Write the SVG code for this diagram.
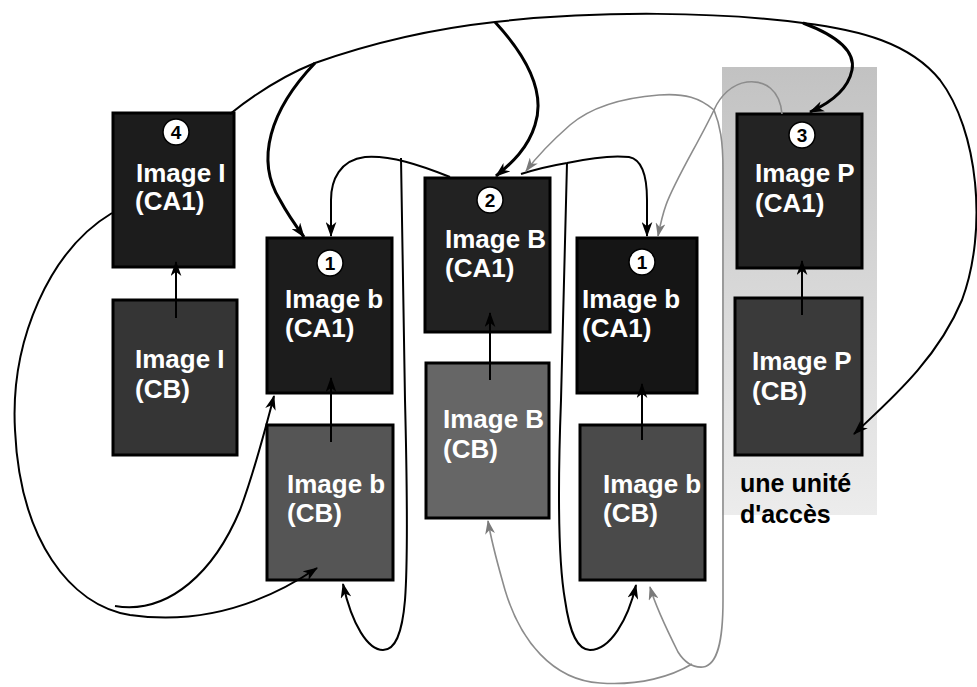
<svg xmlns="http://www.w3.org/2000/svg" width="977" height="687" viewBox="0 0 977 687">
<style>
.box{stroke:#000;stroke-width:3}
.ca1{fill:#1c1c1c}
.lbl{font-family:"Liberation Sans",Arial,sans-serif;font-weight:bold;font-size:26px;fill:#fff}
.num{font-family:"Liberation Sans",Arial,sans-serif;font-weight:bold;font-size:19px;fill:#000;text-anchor:middle}
.badge{fill:#fff;stroke:#000;stroke-width:1.5}
.blk{fill:none;stroke:#000;stroke-width:2}
.thick{fill:none;stroke:#000;stroke-width:3}
.gry{fill:none;stroke:#8c8c8c;stroke-width:1.6}
.note{font-family:"Liberation Sans",Arial,sans-serif;font-weight:bold;font-size:25px;fill:#000}
</style>
<defs>
<marker id="ab" viewBox="0 0 14 10" refX="13" refY="5" markerWidth="15" markerHeight="11" markerUnits="userSpaceOnUse" orient="auto">
<path d="M0,0 L14,5 L0,10 L4,5 z" fill="#000"/>
</marker>
<marker id="ag" viewBox="0 0 14 10" refX="13" refY="5" markerWidth="14" markerHeight="10" markerUnits="userSpaceOnUse" orient="auto">
<path d="M0,0 L14,5 L0,10 L4,5 z" fill="#7a7a7a"/>
</marker>
<linearGradient id="unit" x1="0" y1="0" x2="0" y2="1">
<stop offset="0" stop-color="#c2c2c2"/>
<stop offset="0.6" stop-color="#dcdcdc"/>
<stop offset="1" stop-color="#ececec"/>
</linearGradient>
</defs>
<rect width="977" height="687" fill="#fff"/>
<rect id="access-unit" x="722" y="67" width="155" height="448" fill="url(#unit)"/>

<g id="nodeI_CA1"><rect class="box ca1" x="113" y="113" width="121" height="154"/><circle class="badge" cx="176" cy="132" r="13"/><text class="num" x="176" y="139">4</text><text class="lbl" x="136" y="182">Image I</text><text class="lbl" x="135" y="210">(CA1)</text></g>
<g id="nodeI_CB"><rect class="box" fill="#353535" x="113" y="300" width="124" height="155"/><text class="lbl" x="135" y="368">Image I</text><text class="lbl" x="135" y="398">(CB)</text></g>

<g id="nodeb1_CA1"><rect class="box ca1" x="267" y="238" width="125" height="155"/><circle class="badge" cx="330" cy="263" r="13"/><text class="num" x="330" y="270">1</text><text class="lbl" x="285" y="308">Image b</text><text class="lbl" x="285" y="337">(CA1)</text></g>
<g id="nodeb1_CB"><rect class="box" fill="#555" x="267" y="425" width="126" height="155"/><text class="lbl" x="287" y="493">Image b</text><text class="lbl" x="287" y="522">(CB)</text></g>

<g id="nodeB_CA1"><rect class="box" fill="#222" x="425" y="178" width="125" height="154"/><circle class="badge" cx="490" cy="200" r="13"/><text class="num" x="490" y="207">2</text><text class="lbl" x="445" y="248">Image B</text><text class="lbl" x="445" y="277">(CA1)</text></g>
<g id="nodeB_CB"><rect class="box" fill="#666" x="426" y="363" width="123" height="155"/><text class="lbl" x="443" y="428">Image B</text><text class="lbl" x="443" y="458">(CB)</text></g>

<g id="nodeb2_CA1"><rect class="box" fill="#151515" x="577" y="238" width="120" height="155"/><circle class="badge" cx="642" cy="262" r="13"/><text class="num" x="642" y="269">1</text><text class="lbl" x="582" y="308">Image b</text><text class="lbl" x="582" y="337">(CA1)</text></g>
<g id="nodeb2_CB"><rect class="box" fill="#4a4a4a" x="580" y="425" width="125" height="155"/><text class="lbl" x="603" y="493">Image b</text><text class="lbl" x="603" y="522">(CB)</text></g>

<g id="nodeP_CA1"><rect class="box" fill="#232323" x="737" y="114" width="125" height="154"/><circle class="badge" cx="802" cy="135" r="13"/><text class="num" x="802" y="142">3</text><text class="lbl" x="755" y="182">Image P</text><text class="lbl" x="755" y="212">(CA1)</text></g>
<g id="nodeP_CB"><rect class="box" fill="#3a3a3a" x="735" y="298" width="127" height="157"/><text class="lbl" x="752" y="370">Image P</text><text class="lbl" x="752" y="400">(CB)</text></g>

<g id="label-unit"><text class="note" x="740" y="492">une unité</text><text class="note" x="740" y="523">d'accès</text></g>

<g id="connectors">
<!-- CB to CA1 within each picture -->
<path class="blk" d="M176,318 L176,262" marker-end="url(#ab)"/>
<path class="blk" d="M331,442 L331,378" marker-end="url(#ab)"/>
<path class="blk" d="M490,380 L490,313" marker-end="url(#ab)"/>
<path class="blk" d="M642,440 L642,384" marker-end="url(#ab)"/>
<path class="blk" d="M802,315 L802,261" marker-end="url(#ab)"/>

<!-- from Image I (CA1): top arc and branches -->
<path class="blk" d="M230,114 C260,90 285,75 315,63 C380,40 440,28 495,22 C600,10 720,12 803,23 C860,30 910,43 940,80 C978,130 988,230 962,300 C937,360 890,400 854,434" marker-end="url(#ab)"/>
<path class="thick" d="M315,63 C270,110 255,160 280,200 C288,215 296,226 304,237" marker-end="url(#ab)"/>
<path class="thick" d="M495,22 C530,60 545,95 535,125 C528,148 512,163 496,176" marker-end="url(#ab)"/>
<path class="thick" d="M803,23 C835,35 856,50 852,70 C848,90 830,103 810,112" marker-end="url(#ab)"/>

<!-- left loop from Image I (CA1) -->
<path class="blk" d="M112,213 C50,250 10,340 15,430 C20,540 70,605 130,615 C200,625 262,605 317,568" marker-end="url(#ab)"/>
<path class="blk" d="M115,606 C170,615 215,570 240,510 C255,470 265,430 274,396" marker-end="url(#ab)"/>

<!-- from Image B (CA1) to b pictures -->
<path class="blk" d="M450,177 C420,165 390,155 365,157 C340,160 331,180 331,200 L331,236" marker-end="url(#ab)"/>
<path class="blk" d="M401,158 L405,400 C407,480 408,560 405,600 C402,635 395,650 383,650 C368,650 352,625 343,584" marker-end="url(#ab)"/>
<path class="blk" d="M521,174 C540,168 555,165 567,163 C590,158 612,155 629,157 C645,160 647,185 647,200 L647,236" marker-end="url(#ab)"/>
<path class="blk" d="M567,163 L561,400 C558,480 558,560 565,600 C570,635 578,650 590,650 C610,650 628,620 636,585" marker-end="url(#ab)"/>

<!-- from Image P (CA1), grey -->
<path class="gry" d="M782,114 C780,90 765,80 747,82 C732,84 720,96 714,110"/>
<path class="gry" d="M714,110 C700,140 675,180 666,205 C662,216 660,226 658,236" marker-end="url(#ag)"/>
<path class="gry" d="M714,110 C700,98 685,93 659,95 C620,98 590,108 570,125 C553,140 538,155 526,171" marker-end="url(#ag)"/>
<path class="gry" d="M714,110 C720,125 723,140 723,170 L723,600 C723,640 718,665 703,667 C690,668 683,660 678,652 C668,632 656,608 650,587" marker-end="url(#ag)"/>
<path class="gry" d="M692,664 C672,676 640,686 600,683 C552,680 520,640 505,590 C498,565 492,545 488,521" marker-end="url(#ag)"/>
</g>
</svg>
